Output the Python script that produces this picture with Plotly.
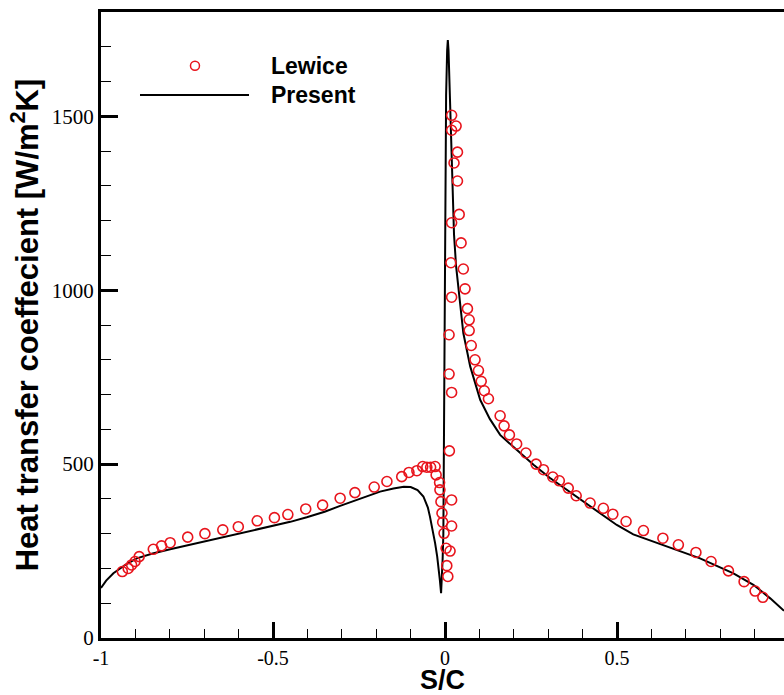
import plotly.graph_objects as go

# ---- data ----
present_s = [-1.0, -0.985, -0.964, -0.93, -0.896, -0.85, -0.799, -0.75, -0.703, -0.65,
             -0.596, -0.55, -0.499, -0.45, -0.402, -0.35, -0.305, -0.25, -0.189, -0.15,
             -0.12, -0.10, -0.08, -0.063, -0.05, -0.044, -0.035, -0.029, -0.023, -0.019,
             -0.015, -0.0116, -0.009, -0.007, -0.005, -0.003, -0.002, 0.0, 0.003, 0.006,
             0.008, 0.010, 0.0145, 0.018, 0.022, 0.026, 0.032, 0.042, 0.053, 0.073,
             0.102, 0.13, 0.16, 0.208, 0.257, 0.305, 0.354, 0.402, 0.451, 0.499,
             0.547, 0.644, 0.741, 0.838, 0.896, 0.945, 0.985]
present_h = [144, 165, 186, 210, 229, 243, 255, 266, 277, 289,
             301, 311, 322, 334, 347, 363, 380, 400, 421, 430,
             435, 434, 425, 407, 375, 349, 305, 273, 235, 205,
             165, 129, 170, 230, 300, 600, 1000, 1300, 1560, 1690,
             1719, 1690, 1549, 1400, 1261, 1160, 1069, 973, 877, 781,
             685, 630, 584, 541, 498, 460, 426, 392, 359, 325,
             298, 263, 229, 186, 153, 114, 78]

lewice_s = [-0.938, -0.921, -0.911, -0.901, -0.889, -0.848, -0.824, -0.799, -0.748, -0.698,
            -0.646, -0.601, -0.546, -0.496, -0.457, -0.405, -0.356, -0.305, -0.262, -0.206,
            -0.169, -0.126, -0.105, -0.082, -0.065, -0.053, -0.042, -0.029, -0.026, -0.016,
            -0.015, -0.012, -0.009, -0.007, -0.003, 0.003, 0.005, 0.008, 0.0125, 0.019,
            0.019, 0.0145, 0.019, 0.032, 0.019, 0.036, 0.026, 0.036, 0.041, 0.019,
            0.0465, 0.017, 0.053, 0.058, 0.019, 0.065, 0.070, 0.070, 0.0116, 0.076,
            0.087, 0.097, 0.105, 0.114, 0.126, 0.0116, 0.019, 0.160, 0.1715, 0.187,
            0.208, 0.235, 0.2645, 0.286, 0.313, 0.332, 0.358, 0.381, 0.4215, 0.460,
            0.4875, 0.526, 0.5765, 0.633, 0.678, 0.729, 0.773, 0.8235, 0.869, 0.901,
            0.9235]
lewice_h = [191, 200, 210, 220, 234, 255, 265, 274, 290, 300,
            311, 320, 337, 346, 355, 371, 382, 402, 418, 434,
            450, 464, 476, 481, 493, 491, 491, 493, 469, 447,
            426, 392, 359, 333, 301, 258, 208, 177, 538, 397,
            322, 250, 1503, 1472, 1460, 1397, 1366, 1314, 1218, 1194,
            1136, 1079, 1061, 1004, 980, 947, 915, 884, 872, 841,
            800, 769, 738, 711, 688, 759, 706, 639, 610, 584,
            558, 532, 500, 484, 463, 452, 431, 409, 388, 373,
            356, 335, 309, 287, 268, 246, 220, 193, 162, 135,
            117]

x_tickvals = [-1, -0.5, 0, 0.5]
x_ticktext = ["-1", "-0.5", "0", "0.5"]
y_tickvals = [0, 500, 1000, 1500]
y_ticktext = ["0", "500", "1000", "1500"]

RED = "#e8141c"
SERIF = "Liberation Serif, Times New Roman, serif"
SANS = "Liberation Sans, Arial, sans-serif"

fig = go.Figure()
fig.add_trace(go.Scatter(x=present_s, y=present_h, mode="lines", name="Present",
                         line=dict(color="black", width=2), showlegend=False))
fig.add_trace(go.Scatter(x=lewice_s, y=lewice_h, mode="markers", name="Lewice",
                         marker=dict(symbol="circle-open", size=10, color=RED,
                                     line=dict(color=RED, width=1.6)),
                         showlegend=False))

axis_common = dict(showgrid=False, zeroline=False, showline=True, linecolor="black",
                   linewidth=3, ticks="inside", tickcolor="black")

fig.update_xaxes(range=[-1, 0.985], tickvals=x_tickvals, ticktext=x_ticktext,
                 ticklen=16, tickwidth=2.5, mirror=True,
                 tickfont=dict(family=SERIF, size=20, color="black"),
                 minor=dict(dtick=0.1, ticks="inside", ticklen=9, tickwidth=1.3, tickcolor="black"),
                 title=dict(text="S/C", font=dict(family=SANS, size=27, color="black", weight="bold"),
                            standoff=8),
                 **axis_common)
fig.update_yaxes(range=[0, 1800], tickvals=y_tickvals, ticktext=y_ticktext,
                 ticklen=17, tickwidth=2.5,
                 tickfont=dict(family=SERIF, size=21, color="black"),
                 minor=dict(dtick=100, ticks="inside", ticklen=10, tickwidth=1.3, tickcolor="black"),
                 title=dict(text="Heat transfer coeffecient [W/m<sup>2</sup>K]",
                            font=dict(family=SANS, size=31, color="black", weight="bold"),
                            standoff=4),
                 **axis_common)

# legend drawn in paper coordinates
fig.add_shape(type="circle", xref="paper", yref="paper", xsizemode="pixel", ysizemode="pixel",
              xanchor=0.1376, yanchor=0.9142, x0=-4.5, x1=4.5, y0=-4.5, y1=4.5,
              line=dict(color=RED, width=1.5))
fig.add_shape(type="line", xref="paper", yref="paper", x0=0.0571, x1=0.2167, y0=0.8674, y1=0.8674,
              line=dict(color="black", width=2))
for label, yy in [("Lewice", 0.9142), ("Present", 0.8674)]:
    fig.add_annotation(text=label, xref="paper", yref="paper", x=0.246, y=yy,
                       xanchor="left", yanchor="middle", showarrow=False,
                       font=dict(family=SANS, size=23, color="black", weight="bold"))

fig.update_layout(width=784, height=695, margin=dict(l=101, r=0, t=12, b=57),
                  plot_bgcolor="white", paper_bgcolor="white", showlegend=False)

fig.write_html("out.html")
